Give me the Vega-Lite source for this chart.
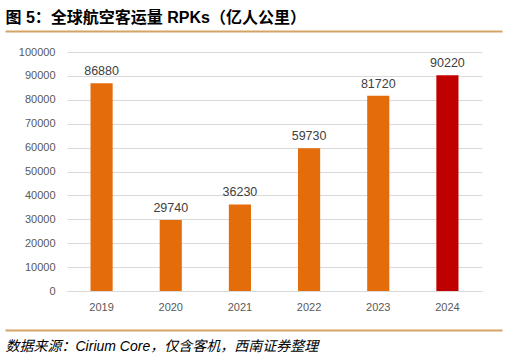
{
  "$schema": "https://vega.github.io/schema/vega-lite/v6.json",
  "background": "white",
  "padding": {"left": 5, "top": 9, "right": 0, "bottom": 0},
  "width": 415,
  "height": 239,
  "config": {
    "view": {"stroke": null},
    "font": "Liberation Sans, Noto Sans CJK SC"
  },
  "data": {
    "values": [
      {"year": "2019", "rpk": 86880},
      {"year": "2020", "rpk": 29740},
      {"year": "2021", "rpk": 36230},
      {"year": "2022", "rpk": 59730},
      {"year": "2023", "rpk": 81720},
      {"year": "2024", "rpk": 90220}
    ]
  },
  "layer": [
    {
      "encoding": {
        "x": {
          "field": "year",
          "type": "ordinal",
          "scale": {"paddingInner": 0.68, "paddingOuter": 0.34},
          "axis": {
            "title": null,
            "orient": "bottom",
            "labelAngle": 0,
            "labelColor": "#595959",
            "labelFontSize": 11,
            "labelFont": "Liberation Sans",
            "labelPadding": 10,
            "ticks": false,
            "domainColor": "#D9D9D9",
            "domainWidth": 1
          }
        },
        "y": {
          "field": "rpk",
          "type": "quantitative",
          "scale": {"domain": [0, 100000]},
          "axis": {
            "title": null,
            "values": [0, 10000, 20000, 30000, 40000, 50000, 60000, 70000, 80000, 90000, 100000],
            "format": "d",
            "labelColor": "#595959",
            "labelFontSize": 11,
            "labelFont": "Liberation Sans",
            "labelPadding": 12,
            "ticks": false,
            "domain": false,
            "gridColor": "#D9D9D9",
            "gridWidth": 1
          }
        }
      },
      "layer": [
        {
          "mark": {"type": "bar"},
          "encoding": {
            "color": {
              "condition": {"test": "datum.year === '2024'", "value": "#C00000"},
              "value": "#E46C0A"
            }
          }
        },
        {
          "mark": {
            "type": "text",
            "baseline": "bottom",
            "dy": -5,
            "fontSize": 12.5,
            "font": "Liberation Sans",
            "color": "#404040"
          },
          "encoding": {
            "text": {"field": "rpk", "type": "quantitative", "format": "d"}
          }
        }
      ]
    },
    {
      "mark": {"type": "point", "opacity": 0},
      "encoding": {
        "x": {
          "field": "rpk",
          "type": "quantitative",
          "scale": {"range": [-62, 435]},
          "axis": {
            "orient": "top",
            "offset": 21,
            "labels": false,
            "ticks": false,
            "grid": false,
            "domainColor": "#D4A467",
            "domainWidth": 2,
            "title": "图 5：全球航空客运量 RPKs（亿人公里）",
            "titleAnchor": "start",
            "titleAlign": "left",
            "titleBaseline": "alphabetic",
            "titlePadding": 9,
            "titleFont": "Liberation Sans, Noto Sans CJK SC",
            "titleFontSize": 16,
            "titleFontWeight": "bold",
            "titleColor": "#000000"
          }
        }
      }
    },
    {
      "mark": {"type": "point", "opacity": 0},
      "encoding": {
        "x": {
          "field": "rpk",
          "type": "quantitative",
          "scale": {"range": [-62, 435]},
          "axis": {
            "orient": "bottom",
            "offset": 39,
            "labels": false,
            "ticks": false,
            "grid": false,
            "domainColor": "#D4A467",
            "domainWidth": 2,
            "title": "数据来源：Cirium Core，仅含客机，西南证券整理",
            "titleAnchor": "start",
            "titleAlign": "left",
            "titleBaseline": "top",
            "titlePadding": 9,
            "titleFont": "Liberation Sans, Noto Sans CJK SC",
            "titleFontSize": 14,
            "titleFontWeight": "normal",
            "titleFontStyle": "italic",
            "titleColor": "#000000"
          }
        }
      }
    }
  ],
  "resolve": {"scale": {"x": "independent"}, "axis": {"x": "independent"}}
}
